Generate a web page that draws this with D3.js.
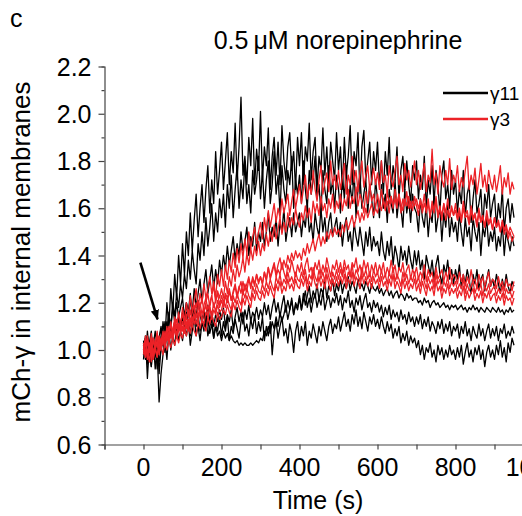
<!DOCTYPE html>
<html>
<head>
<meta charset="utf-8">
<script src="https://cdn.jsdelivr.net/npm/d3@7"></script>
<style>
  body { margin: 0; background: #fff; }
  text { font-family: "Liberation Sans", Arial, sans-serif; fill: #000; }
</style>
</head>
<body>
<div class="chart"></div>
<script>
// mCh-gamma traces after 0.5 uM norepinephrine, one sample every 5 s from t = 0

var sampleStep = 5;

var xTicks = [0, 200, 400, 600, 800, 1000];
var yTicks = [0.6, 0.8, 1.0, 1.2, 1.4, 1.6, 1.8, 2.0, 2.2];
var legendLabels = ["\u03b311", "\u03b33"];

// gamma11 (black)
var g11a = [
  1.02, 0.96, 1.08, 0.99, 0.93, 1.04, 0.97, 1.06, 0.90, 1.01, 1.12, 1.05, 1.20, 1.10, 1.26, 1.16, 1.32, 1.22, 1.40, 1.28,
  1.45, 1.32, 1.50, 1.40, 1.58, 1.42, 1.55, 1.66, 1.48, 1.60, 1.70, 1.54, 1.68, 1.78, 1.58, 1.72, 1.62, 1.84, 1.66, 1.76,
  1.88, 1.68, 1.80, 1.92, 1.70, 1.84, 1.75, 1.96, 1.72, 1.86, 2.07, 1.74, 1.82, 1.70, 1.90, 1.78, 1.98, 1.70, 1.85, 1.76,
  2.01, 1.72, 1.86, 1.78, 1.94, 1.68, 1.82, 1.90, 1.74, 1.88, 1.70, 1.95, 1.80, 1.72, 1.86, 1.92, 1.76, 1.84, 1.68, 1.90,
  1.78, 1.92, 1.70, 1.86, 1.80, 1.96, 1.72, 1.84, 1.90, 1.68, 1.82, 1.76, 1.94, 1.74, 1.86, 1.70, 1.88, 1.80, 1.72, 1.92,
  1.76, 1.86, 1.68, 1.90, 1.74, 1.82, 1.95, 1.70, 1.84, 1.78, 1.92, 1.66, 1.86, 1.93, 1.72, 1.80, 1.88, 1.70, 1.84, 1.76,
  1.88, 1.70, 1.80, 1.66, 1.84, 1.74, 1.90, 1.68, 1.78, 1.72, 1.86, 1.64, 1.76, 1.82, 1.68, 1.80, 1.70, 1.62, 1.78, 1.72,
  1.80, 1.64, 1.74, 1.68, 1.82, 1.60, 1.72, 1.66, 1.78, 1.62, 1.76, 1.70, 1.58, 1.74, 1.80, 1.64, 1.70, 1.60, 1.76, 1.66,
  1.72, 1.58, 1.68, 1.62, 1.76, 1.56, 1.66, 1.70, 1.54, 1.64, 1.72, 1.58, 1.62, 1.68, 1.52, 1.66, 1.60, 1.70, 1.56, 1.62,
  1.66, 1.52, 1.62, 1.56, 1.68, 1.50, 1.60, 1.64, 1.54, 1.62, 1.56
];
var g11b = [
  0.98, 1.05, 0.94, 1.03, 1.08, 0.97, 1.04, 0.92, 1.00, 1.06, 1.02, 1.10, 1.06, 1.16, 1.08, 1.20, 1.14, 1.24, 1.18, 1.28,
  1.22, 1.32, 1.26, 1.38, 1.30, 1.42, 1.34, 1.28, 1.45, 1.38, 1.50, 1.40, 1.56, 1.44, 1.52, 1.62, 1.46, 1.58, 1.50, 1.64,
  1.56, 1.66, 1.52, 1.70, 1.60, 1.74, 1.56, 1.68, 1.78, 1.60, 1.72, 1.64, 1.80, 1.62, 1.70, 1.58, 1.76, 1.66, 1.72, 1.82,
  1.64, 1.76, 1.60, 1.72, 1.80, 1.62, 1.70, 1.84, 1.66, 1.74, 1.58, 1.78, 1.68, 1.62, 1.76, 1.70, 1.82, 1.60, 1.72, 1.66,
  1.74, 1.62, 1.80, 1.68, 1.60, 1.76, 1.66, 1.72, 1.82, 1.64, 1.70, 1.58, 1.76, 1.68, 1.62, 1.78, 1.66, 1.72, 1.60, 1.74,
  1.68, 1.58, 1.74, 1.64, 1.78, 1.60, 1.70, 1.62, 1.76, 1.56, 1.68, 1.74, 1.60, 1.66, 1.72, 1.58, 1.70, 1.64, 1.56, 1.72,
  1.64, 1.56, 1.70, 1.60, 1.66, 1.54, 1.68, 1.62, 1.58, 1.72, 1.56, 1.64, 1.60, 1.52, 1.68, 1.58, 1.64, 1.54, 1.66, 1.60,
  1.58, 1.50, 1.64, 1.56, 1.52, 1.62, 1.48, 1.58, 1.54, 1.66, 1.50, 1.56, 1.60, 1.46, 1.58, 1.52, 1.62, 1.48, 1.56, 1.50,
  1.54, 1.46, 1.58, 1.50, 1.44, 1.56, 1.48, 1.52, 1.42, 1.56, 1.50, 1.46, 1.54, 1.40, 1.52, 1.48, 1.56, 1.44, 1.50, 1.46,
  1.52, 1.42, 1.48, 1.44, 1.54, 1.40, 1.50, 1.46, 1.42, 1.48, 1.44
];
var g11c = [
  1.00, 1.05, 0.96, 1.02, 0.93, 1.04, 0.98, 1.03, 0.95, 1.00, 1.04, 0.99, 1.08, 1.03, 1.10, 1.05, 1.12, 1.07, 1.14, 1.10,
  1.16, 1.10, 1.20, 1.14, 1.22, 1.16, 1.26, 1.18, 1.24, 1.30, 1.20, 1.28, 1.34, 1.24, 1.30, 1.36, 1.26, 1.34, 1.28, 1.38,
  1.32, 1.40, 1.34, 1.44, 1.36, 1.42, 1.48, 1.38, 1.45, 1.40, 1.50, 1.42, 1.46, 1.52, 1.40, 1.48, 1.44, 1.54, 1.42, 1.50,
  1.46, 1.54, 1.44, 1.50, 1.58, 1.46, 1.52, 1.48, 1.56, 1.44, 1.54, 1.50, 1.60, 1.46, 1.52, 1.56, 1.48, 1.58, 1.50, 1.54,
  1.58, 1.48, 1.56, 1.52, 1.62, 1.50, 1.54, 1.46, 1.58, 1.52, 1.48, 1.60, 1.50, 1.56, 1.46, 1.54, 1.58, 1.48, 1.52, 1.56,
  1.48, 1.54, 1.44, 1.52, 1.56, 1.46, 1.50, 1.42, 1.54, 1.48, 1.44, 1.52, 1.46, 1.40, 1.50, 1.44, 1.52, 1.42, 1.48, 1.44,
  1.46, 1.40, 1.50, 1.42, 1.38, 1.46, 1.40, 1.48, 1.36, 1.44, 1.40, 1.34, 1.44, 1.38, 1.42, 1.36, 1.44, 1.38, 1.34, 1.42,
  1.36, 1.42, 1.34, 1.38, 1.30, 1.40, 1.36, 1.32, 1.38, 1.30, 1.36, 1.40, 1.32, 1.28, 1.36, 1.32, 1.38, 1.30, 1.34, 1.28,
  1.34, 1.30, 1.36, 1.26, 1.32, 1.28, 1.34, 1.30, 1.24, 1.32, 1.28, 1.34, 1.26, 1.30, 1.32, 1.25, 1.30, 1.34, 1.27, 1.30,
  1.26, 1.32, 1.28, 1.24, 1.30, 1.26, 1.32, 1.27, 1.24, 1.29, 1.27
];
var g11d = [
  1.03, 0.97, 1.06, 1.00, 0.95, 1.02, 1.08, 1.01, 1.05, 1.10, 1.03, 1.08, 1.12, 1.06, 1.10, 1.04, 1.12, 1.08, 1.14, 1.10,
  1.14, 1.08, 1.16, 1.12, 1.06, 1.14, 1.18, 1.10, 1.15, 1.08, 1.12, 1.16, 1.09, 1.13, 1.07, 1.11, 1.05, 1.10, 1.06, 1.08,
  1.04, 1.08, 1.05, 1.07, 1.04, 1.06, 1.04, 1.03, 1.04, 1.02, 1.03, 1.02, 1.03, 1.02, 1.02, 1.03, 1.02, 1.03, 1.04, 1.03,
  1.05, 1.04, 1.08, 1.06, 1.10, 1.07, 1.12, 1.09, 1.14, 1.10, 1.16, 1.12, 1.15, 1.19, 1.13, 1.17, 1.21, 1.15, 1.19, 1.17,
  1.22, 1.17, 1.24, 1.19, 1.23, 1.27, 1.20, 1.25, 1.22, 1.28, 1.21, 1.26, 1.24, 1.29, 1.22, 1.27, 1.25, 1.30, 1.23, 1.28,
  1.25, 1.30, 1.24, 1.28, 1.26, 1.31, 1.25, 1.29, 1.27, 1.24, 1.30, 1.26, 1.28, 1.25, 1.29, 1.27, 1.24, 1.28, 1.26, 1.25,
  1.27, 1.24, 1.26, 1.23, 1.25, 1.26, 1.23, 1.25, 1.22, 1.24, 1.25, 1.22, 1.24, 1.23, 1.21, 1.24, 1.22, 1.23, 1.21, 1.22,
  1.22, 1.20, 1.21, 1.19, 1.22, 1.20, 1.21, 1.18, 1.20, 1.21, 1.19, 1.20, 1.18, 1.19, 1.20, 1.18, 1.19, 1.17, 1.19, 1.18,
  1.19, 1.17, 1.18, 1.19, 1.17, 1.18, 1.16, 1.18, 1.17, 1.19, 1.17, 1.18, 1.16, 1.18, 1.17, 1.16, 1.18, 1.17, 1.16, 1.18,
  1.17, 1.16, 1.18, 1.16, 1.17, 1.15, 1.17, 1.16, 1.18, 1.16, 1.17
];
var g11e = [
  0.96, 1.06, 0.88, 1.02, 0.97, 1.04, 0.92, 1.00, 0.78, 0.90, 0.98, 1.04, 0.96, 1.08, 1.00, 1.06, 1.02, 1.10, 1.04, 1.08,
  1.04, 1.10, 1.06, 1.12, 1.02, 1.08, 1.14, 1.06, 1.10, 1.04, 1.12, 1.08, 1.15, 1.06, 1.10, 1.13, 1.05, 1.11, 1.08, 1.14,
  1.06, 1.12, 1.08, 1.14, 1.04, 1.10, 1.07, 1.13, 1.09, 1.05, 1.12, 1.16, 1.08, 1.11, 1.06, 1.13, 1.09, 1.15, 1.07, 1.12,
  1.08, 1.14, 1.04, 1.10, 1.06, 1.12, 0.98, 1.08, 1.12, 1.05, 1.10, 1.14, 1.06, 1.09, 1.03, 1.11, 1.07, 0.99, 1.08, 1.12,
  1.04, 1.10, 1.06, 1.12, 1.02, 1.08, 1.05, 1.11, 1.07, 1.03, 1.10, 1.06, 1.12, 1.08, 1.04, 1.10, 1.13, 1.07, 1.11, 1.09,
  1.14, 1.08, 1.12, 1.16, 1.10, 1.13, 1.08, 1.15, 1.11, 1.17, 1.10, 1.14, 1.09, 1.16, 1.12, 1.08, 1.14, 1.11, 1.15, 1.10,
  1.13, 1.09, 1.14, 1.10, 1.07, 1.12, 1.08, 1.11, 1.05, 1.09, 1.06, 1.10, 1.03, 1.07, 1.04, 1.08, 1.02, 1.06, 1.03, 1.05,
  1.01, 1.04, 0.98, 1.02, 0.96, 1.01, 0.99, 1.03, 0.97, 1.00, 0.95, 1.02, 0.98, 1.01, 0.96, 1.00, 0.97, 1.02, 0.98, 1.00,
  0.96, 1.01, 0.97, 1.02, 0.94, 0.99, 1.03, 0.97, 1.00, 0.95, 1.01, 0.98, 1.02, 0.96, 1.00, 0.93, 0.99, 1.02, 0.97, 1.00,
  0.96, 1.02, 0.98, 1.04, 0.97, 1.01, 0.95, 1.03, 0.99, 1.05, 1.02
];
var g11f = [
  1.04, 0.98, 1.02, 0.95, 1.06, 1.00, 1.03, 0.97, 1.05, 1.09, 1.04, 1.12, 1.07, 1.15, 1.10, 1.18, 1.12, 1.20, 1.14, 1.18,
  1.22, 1.14, 1.20, 1.16, 1.24, 1.12, 1.18, 1.14, 1.21, 1.15, 1.11, 1.17, 1.13, 1.19, 1.12, 1.16, 1.10, 1.15, 1.12, 1.17,
  1.13, 1.18, 1.10, 1.15, 1.12, 1.17, 1.09, 1.14, 1.18, 1.12, 1.16, 1.11, 1.17, 1.13, 1.19, 1.12, 1.16, 1.14, 1.18, 1.13,
  1.17, 1.14, 1.20, 1.15, 1.19, 1.13, 1.18, 1.22, 1.16, 1.20, 1.14, 1.19, 1.23, 1.16, 1.21, 1.17, 1.22, 1.15, 1.20, 1.18,
  1.23, 1.17, 1.21, 1.25, 1.18, 1.22, 1.16, 1.21, 1.24, 1.18, 1.22, 1.19, 1.25, 1.17, 1.21, 1.23, 1.18, 1.22, 1.20, 1.24,
  1.19, 1.23, 1.17, 1.22, 1.20, 1.25, 1.18, 1.21, 1.16, 1.22, 1.19, 1.23, 1.17, 1.21, 1.24, 1.18, 1.20, 1.16, 1.21, 1.18,
  1.20, 1.16, 1.19, 1.14, 1.18, 1.15, 1.19, 1.13, 1.17, 1.14, 1.16, 1.12, 1.17, 1.13, 1.15, 1.11, 1.16, 1.12, 1.14, 1.10,
  1.14, 1.11, 1.15, 1.09, 1.13, 1.10, 1.14, 1.08, 1.12, 1.10, 1.07, 1.12, 1.09, 1.13, 1.07, 1.11, 1.08, 1.12, 1.06, 1.10,
  1.08, 1.11, 1.05, 1.10, 1.07, 1.12, 1.06, 1.09, 1.04, 1.10, 1.07, 1.05, 1.11, 1.06, 1.09, 1.04, 1.08, 1.11, 1.05, 1.09,
  1.06, 1.10, 1.04, 1.09, 1.07, 1.11, 1.05, 1.08, 1.06, 1.10, 1.07
];

// gamma3 (red)
var g3a = [
  1.00, 1.06, 0.97, 1.03, 0.95, 1.05, 1.00, 1.08, 0.98, 1.04, 1.07, 1.02, 1.10, 1.05, 1.12, 1.06, 1.14, 1.09, 1.16, 1.10,
  1.18, 1.12, 1.20, 1.14, 1.23, 1.16, 1.21, 1.26, 1.18, 1.24, 1.20, 1.28, 1.22, 1.26, 1.31, 1.24, 1.29, 1.22, 1.32, 1.27,
  1.34, 1.27, 1.36, 1.30, 1.38, 1.33, 1.41, 1.35, 1.43, 1.37, 1.45, 1.39, 1.47, 1.41, 1.50, 1.43, 1.48, 1.52, 1.45, 1.50,
  1.54, 1.47, 1.56, 1.50, 1.59, 1.52, 1.57, 1.62, 1.54, 1.60, 1.56, 1.64, 1.58, 1.62, 1.66, 1.57, 1.63, 1.68, 1.60, 1.65,
  1.70, 1.62, 1.68, 1.74, 1.64, 1.70, 1.66, 1.76, 1.68, 1.63, 1.72, 1.78, 1.66, 1.71, 1.75, 1.67, 1.80, 1.70, 1.74, 1.68,
  1.76, 1.68, 1.73, 1.79, 1.66, 1.74, 1.70, 1.82, 1.71, 1.76, 1.67, 1.75, 1.80, 1.69, 1.74, 1.78, 1.68, 1.72, 1.77, 1.70,
  1.75, 1.68, 1.80, 1.71, 1.74, 1.66, 1.78, 1.72, 1.69, 1.76, 1.82, 1.70, 1.74, 1.67, 1.79, 1.72, 1.76, 1.69, 1.74, 1.80,
  1.70, 1.76, 1.68, 1.73, 1.79, 1.67, 1.74, 1.71, 1.85, 1.70, 1.75, 1.66, 1.78, 1.72, 1.69, 1.76, 1.70, 1.81, 1.68, 1.74,
  1.71, 1.78, 1.67, 1.73, 1.69, 1.76, 1.82, 1.68, 1.74, 1.70, 1.77, 1.66, 1.72, 1.79, 1.69, 1.74, 1.67, 1.76, 1.71, 1.68,
  1.74, 1.67, 1.72, 1.78, 1.66, 1.73, 1.69, 1.75, 1.66, 1.71, 1.68
];
var g3b = [
  1.02, 0.97, 1.06, 0.99, 1.04, 0.96, 1.03, 1.07, 1.00, 1.05, 1.02, 1.08, 1.04, 1.10, 1.05, 1.09, 1.12, 1.06, 1.11, 1.08,
  1.12, 1.08, 1.15, 1.10, 1.17, 1.12, 1.16, 1.20, 1.14, 1.18, 1.22, 1.16, 1.20, 1.24, 1.18, 1.23, 1.27, 1.20, 1.25, 1.22,
  1.26, 1.22, 1.29, 1.24, 1.31, 1.27, 1.34, 1.29, 1.36, 1.31, 1.34, 1.39, 1.33, 1.41, 1.36, 1.43, 1.38, 1.44, 1.40, 1.46,
  1.40, 1.45, 1.42, 1.49, 1.44, 1.50, 1.46, 1.53, 1.47, 1.51, 1.56, 1.49, 1.54, 1.50, 1.58, 1.52, 1.56, 1.53, 1.60, 1.55,
  1.52, 1.58, 1.55, 1.61, 1.56, 1.60, 1.54, 1.63, 1.58, 1.62, 1.57, 1.65, 1.59, 1.62, 1.56, 1.64, 1.60, 1.66, 1.58, 1.63,
  1.60, 1.66, 1.59, 1.64, 1.61, 1.68, 1.60, 1.65, 1.62, 1.69, 1.61, 1.66, 1.63, 1.58, 1.67, 1.62, 1.70, 1.63, 1.66, 1.60,
  1.66, 1.61, 1.68, 1.63, 1.59, 1.67, 1.62, 1.65, 1.60, 1.68, 1.62, 1.66, 1.58, 1.64, 1.61, 1.67, 1.60, 1.63, 1.59, 1.65,
  1.61, 1.57, 1.64, 1.60, 1.66, 1.58, 1.62, 1.56, 1.63, 1.59, 1.65, 1.57, 1.61, 1.55, 1.62, 1.58, 1.64, 1.56, 1.60, 1.57,
  1.62, 1.56, 1.60, 1.55, 1.63, 1.57, 1.59, 1.54, 1.61, 1.56, 1.58, 1.53, 1.60, 1.55, 1.57, 1.52, 1.59, 1.54, 1.56, 1.51,
  1.56, 1.52, 1.55, 1.50, 1.54, 1.49, 1.52, 1.47, 1.50, 1.46, 1.48
];
var g3c = [
  0.98, 1.03, 1.00, 0.95, 1.04, 0.99, 1.02, 0.97, 1.05, 1.01, 1.06, 1.02, 1.07, 1.04, 1.08, 1.05, 1.09, 1.06, 1.11, 1.07,
  1.10, 1.07, 1.12, 1.08, 1.13, 1.10, 1.15, 1.11, 1.14, 1.17, 1.12, 1.16, 1.19, 1.14, 1.18, 1.15, 1.20, 1.16, 1.21, 1.18,
  1.21, 1.18, 1.23, 1.20, 1.25, 1.21, 1.24, 1.27, 1.22, 1.26, 1.29, 1.24, 1.28, 1.25, 1.30, 1.27, 1.31, 1.28, 1.32, 1.29,
  1.31, 1.28, 1.33, 1.30, 1.35, 1.31, 1.34, 1.37, 1.32, 1.36, 1.39, 1.34, 1.38, 1.35, 1.40, 1.37, 1.41, 1.38, 1.42, 1.39,
  1.41, 1.38, 1.43, 1.40, 1.45, 1.41, 1.44, 1.47, 1.42, 1.46, 1.49, 1.44, 1.48, 1.45, 1.50, 1.47, 1.51, 1.48, 1.52, 1.49,
  1.51, 1.48, 1.53, 1.50, 1.55, 1.51, 1.54, 1.57, 1.52, 1.56, 1.59, 1.54, 1.58, 1.55, 1.60, 1.56, 1.59, 1.62, 1.57, 1.60,
  1.58, 1.62, 1.59, 1.64, 1.60, 1.63, 1.58, 1.65, 1.61, 1.64, 1.60, 1.66, 1.62, 1.59, 1.64, 1.61, 1.65, 1.60, 1.63, 1.61,
  1.64, 1.60, 1.63, 1.58, 1.62, 1.59, 1.64, 1.57, 1.61, 1.58, 1.63, 1.56, 1.60, 1.57, 1.62, 1.55, 1.59, 1.56, 1.61, 1.57,
  1.59, 1.55, 1.58, 1.54, 1.60, 1.56, 1.57, 1.53, 1.59, 1.55, 1.57, 1.52, 1.58, 1.54, 1.56, 1.52, 1.57, 1.53, 1.55, 1.51,
  1.56, 1.52, 1.54, 1.50, 1.55, 1.51, 1.53, 1.49, 1.52, 1.50, 1.48
];
var g3d = [
  1.03, 0.98, 1.05, 1.00, 1.07, 0.97, 1.04, 1.01, 1.06, 1.03, 1.08, 1.04, 1.09, 1.06, 1.11, 1.07, 1.10, 1.13, 1.08, 1.12,
  1.15, 1.11, 1.14, 1.17, 1.12, 1.16, 1.19, 1.14, 1.17, 1.20, 1.15, 1.19, 1.22, 1.17, 1.20, 1.23, 1.18, 1.21, 1.24, 1.19,
  1.23, 1.20, 1.24, 1.22, 1.26, 1.21, 1.25, 1.28, 1.23, 1.27, 1.24, 1.29, 1.25, 1.28, 1.31, 1.26, 1.30, 1.27, 1.32, 1.28,
  1.31, 1.28, 1.33, 1.29, 1.35, 1.30, 1.33, 1.36, 1.31, 1.34, 1.32, 1.37, 1.33, 1.30, 1.36, 1.33, 1.38, 1.34, 1.31, 1.36,
  1.33, 1.37, 1.32, 1.36, 1.39, 1.33, 1.35, 1.31, 1.37, 1.34, 1.38, 1.32, 1.36, 1.33, 1.39, 1.35, 1.31, 1.36, 1.34, 1.38,
  1.33, 1.37, 1.32, 1.38, 1.34, 1.36, 1.31, 1.37, 1.35, 1.39, 1.33, 1.36, 1.32, 1.38, 1.34, 1.37, 1.31, 1.36, 1.33, 1.37,
  1.32, 1.36, 1.33, 1.37, 1.31, 1.35, 1.32, 1.38, 1.33, 1.36, 1.30, 1.35, 1.33, 1.37, 1.31, 1.34, 1.36, 1.30, 1.34, 1.32,
  1.35, 1.30, 1.33, 1.31, 1.36, 1.29, 1.34, 1.31, 1.33, 1.28, 1.35, 1.30, 1.32, 1.34, 1.29, 1.33, 1.30, 1.35, 1.29, 1.32,
  1.31, 1.28, 1.33, 1.29, 1.32, 1.27, 1.31, 1.28, 1.34, 1.29, 1.30, 1.26, 1.32, 1.28, 1.31, 1.27, 1.30, 1.33, 1.27, 1.30,
  1.29, 1.26, 1.31, 1.27, 1.29, 1.25, 1.30, 1.27, 1.28, 1.25, 1.29
];
var g3e = [
  0.99, 1.04, 0.96, 1.02, 0.98, 1.05, 1.00, 0.97, 1.03, 1.00, 1.05, 1.01, 1.06, 1.03, 1.07, 1.04, 1.09, 1.05, 1.08, 1.10,
  1.08, 1.12, 1.09, 1.13, 1.10, 1.14, 1.11, 1.15, 1.12, 1.16, 1.13, 1.11, 1.16, 1.14, 1.18, 1.13, 1.17, 1.15, 1.19, 1.16,
  1.17, 1.21, 1.18, 1.22, 1.19, 1.17, 1.23, 1.20, 1.24, 1.21, 1.19, 1.25, 1.22, 1.26, 1.23, 1.21, 1.27, 1.24, 1.28, 1.25,
  1.24, 1.28, 1.25, 1.29, 1.26, 1.30, 1.27, 1.25, 1.31, 1.28, 1.32, 1.27, 1.30, 1.28, 1.33, 1.29, 1.31, 1.28, 1.33, 1.30,
  1.29, 1.33, 1.30, 1.34, 1.28, 1.32, 1.30, 1.35, 1.31, 1.29, 1.34, 1.30, 1.33, 1.29, 1.35, 1.31, 1.28, 1.33, 1.30, 1.34,
  1.30, 1.34, 1.31, 1.35, 1.29, 1.33, 1.31, 1.36, 1.30, 1.34, 1.32, 1.29, 1.35, 1.31, 1.34, 1.30, 1.33, 1.29, 1.34, 1.31,
  1.33, 1.29, 1.34, 1.30, 1.32, 1.28, 1.33, 1.30, 1.35, 1.29, 1.32, 1.30, 1.27, 1.33, 1.29, 1.32, 1.28, 1.31, 1.29, 1.33,
  1.28, 1.31, 1.27, 1.32, 1.29, 1.26, 1.31, 1.28, 1.30, 1.26, 1.32, 1.28, 1.30, 1.25, 1.29, 1.27, 1.31, 1.26, 1.29, 1.27,
  1.29, 1.25, 1.28, 1.26, 1.30, 1.24, 1.28, 1.25, 1.27, 1.29, 1.24, 1.27, 1.25, 1.28, 1.23, 1.27, 1.25, 1.28, 1.24, 1.26,
  1.27, 1.23, 1.26, 1.24, 1.27, 1.22, 1.26, 1.24, 1.25, 1.22, 1.25
];
var g3f = [
  1.01, 0.97, 1.04, 0.99, 1.02, 0.96, 1.01, 1.04, 0.99, 1.02, 0.98, 1.03, 1.00, 1.04, 1.01, 1.05, 1.02, 1.06, 1.03, 1.07,
  1.05, 1.09, 1.06, 1.10, 1.07, 1.11, 1.08, 1.06, 1.12, 1.09, 1.13, 1.10, 1.08, 1.14, 1.11, 1.15, 1.12, 1.10, 1.16, 1.13,
  1.14, 1.17, 1.15, 1.19, 1.16, 1.14, 1.20, 1.17, 1.21, 1.18, 1.16, 1.22, 1.19, 1.23, 1.20, 1.18, 1.24, 1.21, 1.25, 1.22,
  1.21, 1.25, 1.22, 1.26, 1.23, 1.27, 1.24, 1.22, 1.28, 1.25, 1.29, 1.24, 1.27, 1.25, 1.30, 1.26, 1.28, 1.25, 1.30, 1.27,
  1.26, 1.30, 1.27, 1.31, 1.25, 1.29, 1.27, 1.32, 1.28, 1.26, 1.31, 1.27, 1.30, 1.26, 1.32, 1.28, 1.25, 1.30, 1.27, 1.31,
  1.27, 1.31, 1.28, 1.32, 1.26, 1.30, 1.28, 1.33, 1.27, 1.31, 1.29, 1.26, 1.32, 1.28, 1.31, 1.27, 1.30, 1.26, 1.31, 1.28,
  1.30, 1.26, 1.31, 1.27, 1.29, 1.25, 1.30, 1.27, 1.32, 1.26, 1.29, 1.27, 1.24, 1.30, 1.26, 1.29, 1.25, 1.28, 1.26, 1.30,
  1.25, 1.28, 1.24, 1.29, 1.26, 1.23, 1.28, 1.25, 1.27, 1.23, 1.29, 1.25, 1.27, 1.22, 1.26, 1.24, 1.28, 1.23, 1.26, 1.24,
  1.26, 1.22, 1.25, 1.23, 1.27, 1.21, 1.25, 1.22, 1.24, 1.26, 1.21, 1.24, 1.22, 1.25, 1.20, 1.24, 1.22, 1.25, 1.21, 1.23,
  1.24, 1.20, 1.23, 1.21, 1.24, 1.19, 1.23, 1.21, 1.22, 1.19, 1.22
];

var gamma11 = [g11a, g11b, g11c, g11d, g11e, g11f];
var gamma3 = [g3a, g3b, g3c, g3d, g3e, g3f];

// arrow marking drug addition: [time, value] start and tip
var arrowFrom = [-8, 1.37];
var arrowTo = [36, 1.13];

var svgWidth = 522;
var svgHeight = 516;

var svg = d3.select(".chart")
  .append("svg")
  .attr("width", svgWidth)
  .attr("height", svgHeight);

var x = d3.scaleLinear().domain([-100, 1000]).range([104.5, 533.5]);
var y = d3.scaleLinear().domain([0.6, 2.2]).range([444.5, 66.5]);

var line = d3.line()
  .x(function(d, i) { return x(i * sampleStep); })
  .y(function(d) { return y(d); });

// traces
svg.append("g")
  .selectAll("path")
  .data(gamma11)
  .enter().append("path")
    .attr("d", line)
    .attr("fill", "none")
    .attr("stroke", "#000")
    .attr("stroke-width", 1.3)
    .attr("stroke-linejoin", "round");

svg.append("g")
  .selectAll("path")
  .data(gamma3)
  .enter().append("path")
    .attr("d", line)
    .attr("fill", "none")
    .attr("stroke", "#ec2227")
    .attr("stroke-width", 1.3)
    .attr("stroke-linejoin", "round");

// axes
var xAxis = svg.append("g")
  .attr("transform", "translate(0," + y(0.6) + ")")
  .call(d3.axisBottom(x).tickValues(d3.range(-100, 1001, 100)).tickSize(5).tickFormat(""));
xAxis.append("g").call(function(g) {
  g.selectAll("text")
    .data(xTicks)
    .enter().append("text")
      .attr("x", function(d) { return x(d); })
      .attr("y", 31)
      .attr("text-anchor", "middle")
      .style("font-size", "25px")
      .text(function(d) { return d; });
});

var yAxis = svg.append("g")
  .attr("transform", "translate(" + x(-100) + ",0)")
  .call(d3.axisLeft(y).tickValues(d3.range(6, 23).map(function(v) { return v / 10; }))
    .tickSize(3).tickFormat(""));
yAxis.selectAll(".tick line")
  .filter(function(d) { return yTicks.some(function(t) { return Math.abs(t - d) < 1e-6; }); })
  .attr("x2", -6);
yAxis.append("g").call(function(g) {
  g.selectAll("text")
    .data(yTicks)
    .enter().append("text")
      .attr("x", -13)
      .attr("y", function(d) { return y(d); })
      .attr("dy", "0.36em")
      .attr("text-anchor", "end")
      .style("font-size", "25px")
      .text(function(d) { return d.toFixed(1); });
});

svg.selectAll(".domain").attr("stroke", "#444").attr("stroke-width", 1.2);
svg.selectAll(".tick line").attr("stroke", "#444").attr("stroke-width", 1.2);

// arrow
svg.append("defs").append("marker")
  .attr("id", "head")
  .attr("viewBox", "0 0 10 10")
  .attr("refX", 9).attr("refY", 5)
  .attr("markerWidth", 4).attr("markerHeight", 4)
  .attr("orient", "auto")
  .append("path")
    .attr("d", "M0,1L10,5L0,9Z")
    .attr("fill", "#000");

svg.append("line")
  .attr("x1", x(arrowFrom[0])).attr("y1", y(arrowFrom[1]))
  .attr("x2", x(arrowTo[0])).attr("y2", y(arrowTo[1]))
  .attr("stroke", "#000")
  .attr("stroke-width", 2.6)
  .attr("marker-end", "url(#head)");

// legend
var legend = svg.append("g").attr("transform", "translate(443,93)");
var legendColors = ["#000", "#ec2227"];
legendLabels.forEach(function(lab, i) {
  legend.append("line")
    .attr("x1", 0).attr("x2", 45)
    .attr("y1", i * 26).attr("y2", i * 26)
    .attr("stroke", legendColors[i])
    .attr("stroke-width", 2.6);
  legend.append("text")
    .attr("x", 47)
    .attr("y", i * 26 + 7)
    .style("font-size", "19px")
    .text(lab);
});

// titles
svg.append("text")
  .attr("x", 10).attr("y", 27)
  .style("font-size", "25px")
  .text("c");

svg.append("text")
  .attr("x", 338).attr("y", 49)
  .attr("text-anchor", "middle")
  .style("font-size", "25px")
  .text("0.5\u2009\u03bcM norepinephrine");

svg.append("text")
  .attr("x", 318).attr("y", 509)
  .attr("text-anchor", "middle")
  .style("font-size", "25px")
  .text("Time (s)");

svg.append("text")
  .attr("transform", "translate(30,252) rotate(-90)")
  .attr("text-anchor", "middle")
  .style("font-size", "26px")
  .text("mCh-\u03b3 in internal membranes");
</script>
</body>
</html>
